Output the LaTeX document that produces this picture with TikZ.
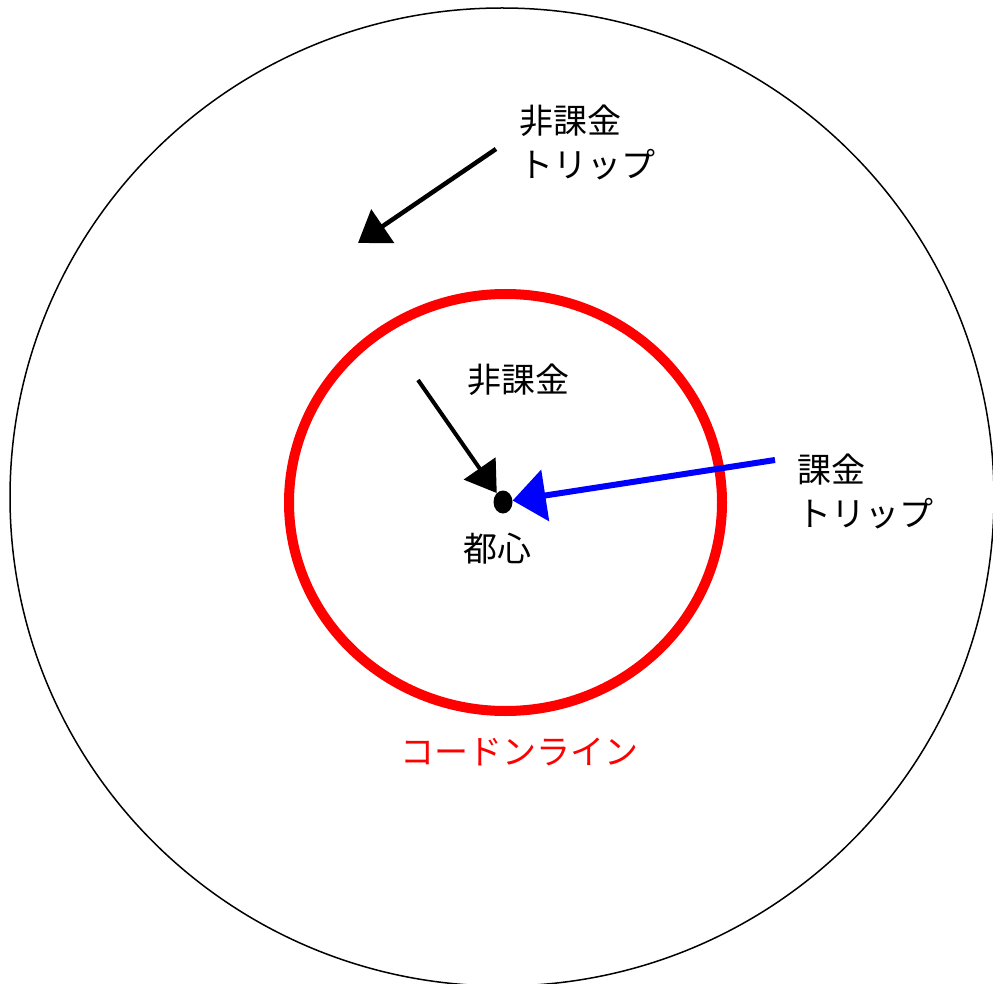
\documentclass[tikz,border=0pt]{standalone}
\usepackage{fontspec}
\newfontfamily\jp{Noto Sans CJK JP}
\usetikzlibrary{arrows.meta,shapes.geometric}
\tikzset{
  lbl/.style={font=\jp\fontsize{34}{44}\selectfont, inner sep=0pt, align=left},
  arr/.style={line width=4.5pt, -{Triangle[length=30pt,width=40pt]}},
  bluearr/.style={line width=6pt, blue, -{Triangle[length=33pt,width=51pt]}},
}
\begin{document}
\begin{tikzpicture}[x=1pt,y=-1pt]
\useasboundingbox[fill=white] (0,0) rectangle (993,984);
% outer area
\draw[line width=1.5pt] (502,497) ellipse[x radius=492, y radius=489];
% cordon line
\draw[red, line width=10pt] (505.5,502.5) ellipse[x radius=216.5, y radius=208.5];
% city centre
\node (cbd) [ellipse, fill=black, minimum width=19pt, minimum height=23pt, inner sep=0pt] at (503,502) {};
\node (cbdlbl) [lbl, anchor=north] at (497,533) {都心};
% labels
\node (outlbl) [lbl, anchor=west] at (519,142) {非課金\\トリップ};
\node (inlbl) [lbl, anchor=west] at (467,380) {非課金};
\node (paylbl) [lbl, anchor=west] at (797,491) {課金\\トリップ};
\node (cordon) [lbl, red, anchor=west] at (400,752) {コードンライン};
% arrows
\coordinate (outS) at (496,149);
\coordinate (outE) at (358,243);
\draw[arr] (outS) -- (outE);
\coordinate (inS) at (418,380);
\draw[arr, line width=4pt, -{Triangle[length=30pt,width=38pt]}] (inS) -- (cbd);
\coordinate (payS) at (775,460);
\draw[bluearr] (payS) -- (cbd);
\end{tikzpicture}
\end{document}
